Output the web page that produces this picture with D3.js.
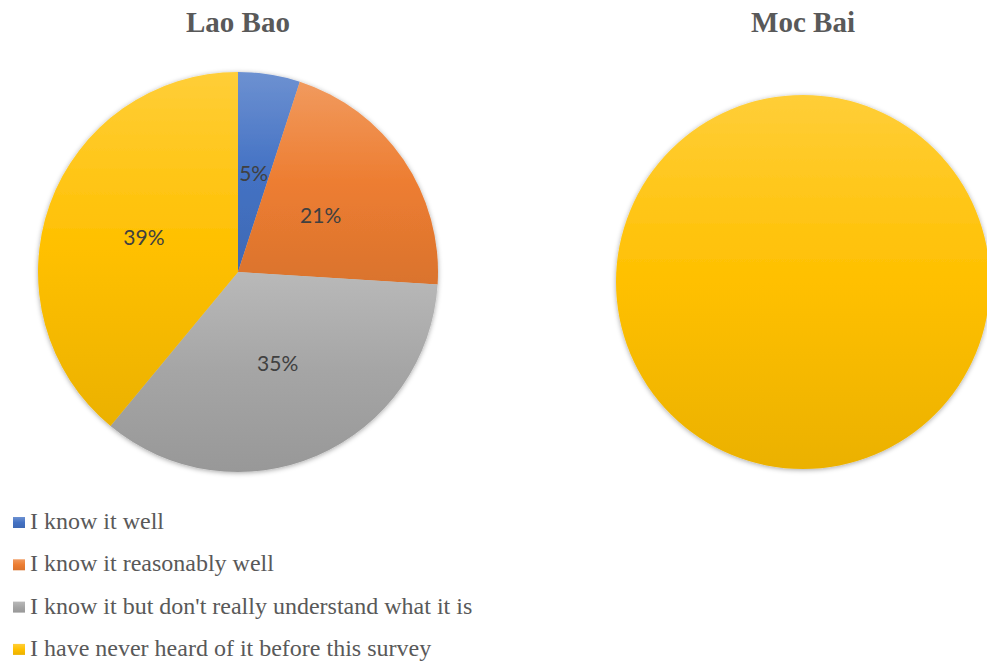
<!DOCTYPE html>
<html>
<head>
<meta charset="utf-8">
<script src="https://cdn.jsdelivr.net/npm/d3@7"></script>
<style>
  html, body { margin: 0; padding: 0; background: #fff; }
  svg { display: block; }
</style>
</head>
<body>
<svg id="chart" width="987" height="667"></svg>
<script>
// Survey answers, one pie per border gate
const categories = [
  "I know it well",
  "I know it reasonably well",
  "I know it but don't really understand what it is",
  "I have never heard of it before this survey"
];
const laoBaoValues = [5, 21, 35, 39];
const mocBaiValues = [0, 0, 0, 100];
const gateNames = ["Lao Bao", "Moc Bai"];
const sliceColors = ["#4472C4", "#ED7D31", "#A5A5A5", "#FFC000"];

const svg = d3.select("#chart");
const defs = svg.append("defs");

// soft outer shadow around each pie
const shadow = defs.append("filter").attr("id", "pieShadow")
  .attr("x", "-10%").attr("y", "-10%").attr("width", "120%").attr("height", "120%");
shadow.append("feDropShadow")
  .attr("dx", 0).attr("dy", 1).attr("stdDeviation", 2.5)
  .attr("flood-color", "#000").attr("flood-opacity", 0.35);

// vertical gradient per colour: lighter at top, darker at bottom
sliceColors.forEach((c, i) => {
  const g = defs.append("linearGradient").attr("id", "grad" + i)
    .attr("x1", 0).attr("y1", 0).attr("x2", 0).attr("y2", 1);
  g.append("stop").attr("offset", "0%").attr("stop-color", d3.interpolateRgb(c, "#fff")(0.22));
  g.append("stop").attr("offset", "50%").attr("stop-color", c);
  g.append("stop").attr("offset", "100%").attr("stop-color", d3.interpolateRgb(c, "#000")(0.08));
});

const pieLayout = d3.pie().sort(null).value(d => d);

function drawPie(values, name, cx, cy, r, showLabels) {
  const g = svg.append("g").attr("transform", `translate(${cx},${cy})`);
  const arc = d3.arc().innerRadius(0).outerRadius(r);
  const labelArc = d3.arc().innerRadius(r * 0.5).outerRadius(r * 0.5);
  const arcs = pieLayout(values).filter(d => d.value > 0);

  g.append("g").attr("filter", "url(#pieShadow)")
    .selectAll("path").data(arcs).join("path")
    .attr("d", arc)
    .attr("fill", d => `url(#grad${d.index})`);

  if (showLabels) {
    const total = d3.sum(values);
    g.selectAll("text.lbl").data(arcs).join("text")
      .attr("class", "lbl")
      .attr("transform", d => `translate(${labelArc.centroid(d)})`)
      .attr("text-anchor", "middle")
      .attr("dy", "0.35em")
      .attr("font-family", "Lato, 'Open Sans', sans-serif")
      .attr("font-size", 21)
      .attr("fill", "#404040")
      .text(d => Math.round(d.value / total * 100) + "%");
  }

  svg.append("text")
    .attr("x", cx).attr("y", 32)
    .attr("text-anchor", "middle")
    .attr("font-family", "'Liberation Serif', 'Times New Roman', serif")
    .attr("font-weight", "bold")
    .attr("font-size", 29)
    .attr("fill", "#595959")
    .text(name);
}

drawPie(laoBaoValues, gateNames[0], 238, 272, 200, true);
drawPie(mocBaiValues, gateNames[1], 803, 282, 187, false);

// legend
const legend = svg.append("g");
const rows = legend.selectAll("g").data(categories).join("g")
  .attr("transform", (d, i) => `translate(0,${529 + i * 42.3})`);
rows.append("rect")
  .attr("x", 13).attr("y", -12).attr("width", 12).attr("height", 11)
  .attr("fill", (d, i) => `url(#grad${i})`);
rows.append("text")
  .attr("x", 30).attr("y", 0)
  .attr("font-family", "'Liberation Serif', 'Times New Roman', serif")
  .attr("font-size", 24)
  .attr("fill", "#595959")
  .text(d => d);
</script>
</body>
</html>
